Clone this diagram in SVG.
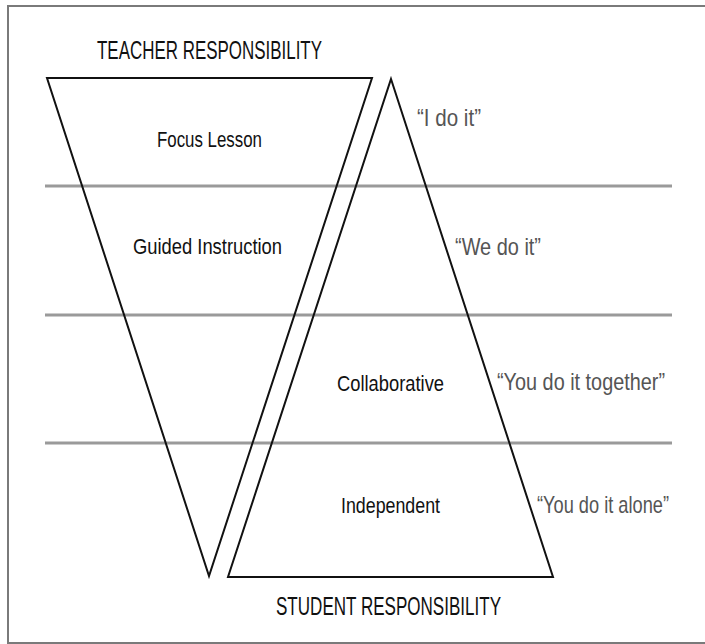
<svg xmlns="http://www.w3.org/2000/svg" width="705" height="644" viewBox="0 0 705 644">
<style>
.frame{fill:none;stroke:#7a7a7a;stroke-width:2}
.band{stroke:#9a9a9a;stroke-width:3;fill:none}
.tri{fill:none;stroke:#111;stroke-width:2;stroke-linejoin:miter}
.head{font-family:"Liberation Sans",Arial,sans-serif;font-size:26px;fill:#111}
.lab{font-family:"Liberation Sans",Arial,sans-serif;font-size:22px;fill:#111}
.quote{font-family:"Liberation Sans",Arial,sans-serif;font-size:24px;fill:#555}
</style>
<rect width="705" height="644" fill="#fff"/>
<path class="frame" d="M705,6 H8 V643 H705"/>
<g id="bands">
<line class="band" x1="45" y1="186" x2="672" y2="186"/>
<line class="band" x1="45" y1="315" x2="672" y2="315"/>
<line class="band" x1="45" y1="443" x2="672" y2="443"/>
</g>
<g id="teacher-triangle">
<polygon class="tri" points="47,78 372,78 209,576"/>
</g>
<g id="student-triangle">
<polygon class="tri" points="391,79 553,577 228,577"/>
</g>
<g id="labels">
<text class="head" x="97" y="59" textLength="225" lengthAdjust="spacingAndGlyphs">TEACHER RESPONSIBILITY</text>
<text class="lab" x="157" y="147" textLength="105" lengthAdjust="spacingAndGlyphs">Focus Lesson</text>
<text class="lab" x="133" y="254" textLength="149" lengthAdjust="spacingAndGlyphs">Guided Instruction</text>
<text class="lab" x="337" y="391" textLength="107" lengthAdjust="spacingAndGlyphs">Collaborative</text>
<text class="lab" x="341" y="513" textLength="99" lengthAdjust="spacingAndGlyphs">Independent</text>
<text class="head" x="276" y="615" textLength="225" lengthAdjust="spacingAndGlyphs">STUDENT RESPONSIBILITY</text>
</g>
<g id="quotes">
<text class="quote" x="417" y="126" textLength="64" lengthAdjust="spacingAndGlyphs">“I do it”</text>
<text class="quote" x="455" y="255" textLength="86" lengthAdjust="spacingAndGlyphs">“We do it”</text>
<text class="quote" x="497" y="390" textLength="168" lengthAdjust="spacingAndGlyphs">“You do it together”</text>
<text class="quote" x="669" y="513" font-size="22" text-anchor="end" textLength="132" lengthAdjust="spacingAndGlyphs">“You do it alone”</text>
</g>
</svg>
